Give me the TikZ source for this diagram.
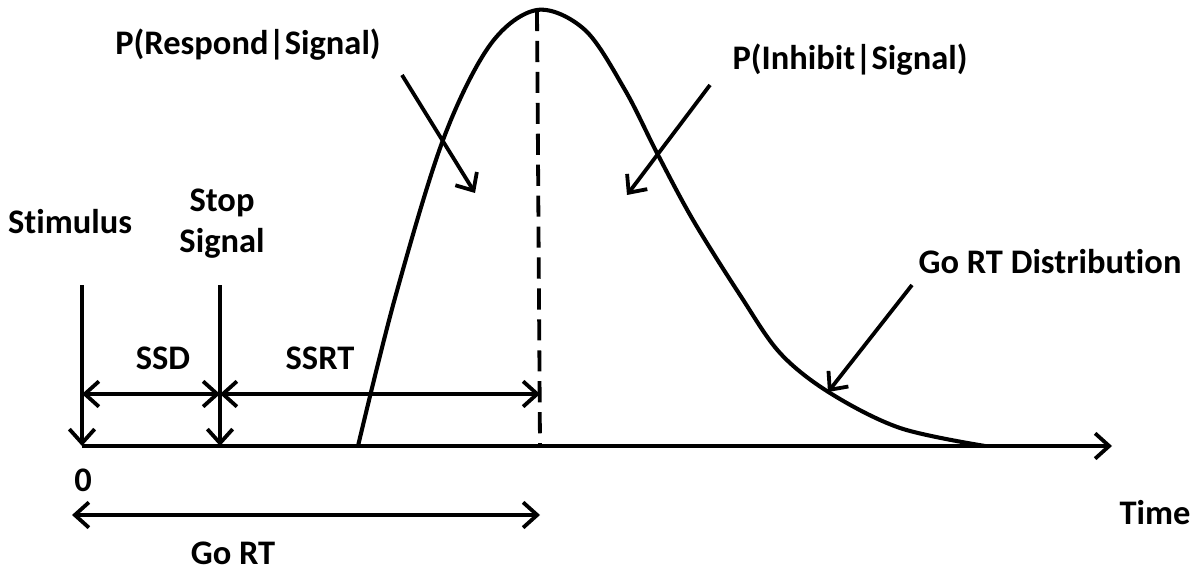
\documentclass[tikz,border=0pt]{standalone}
\usepackage{fontspec}
\setmainfont{Carlito}[Ligatures={NoCommon}]
\usetikzlibrary{arrows.meta}
\begin{document}
\begin{tikzpicture}[x=0.025cm,y=-0.025cm,
  lbl/.style={font=\bfseries\fontsize{24.5}{29}\selectfont, inner sep=0pt, align=center},
  ln/.style={line width=2.7pt},
  tip/.style={-{Straight Barb[length=10pt,width=18pt,line width=2.7pt]}},
  dtip/.style={{Straight Barb[length=10pt,width=18pt,line width=2.7pt]}-{Straight Barb[length=10pt,width=18pt,line width=2.7pt]}}]
\useasboundingbox (0,0) rectangle (1197,571);
% coordinates
\coordinate (o) at (82,446);
\coordinate (axend) at (1112,446);
\coordinate (stimtop) at (82,285);
\coordinate (stoptop) at (220,285);
\coordinate (stopbase) at (220,446);
\coordinate (ssdL) at (82,394);
\coordinate (ssdR) at (220,394);
\coordinate (ssrtR) at (540,394);
\coordinate (peak) at (537,10);
\coordinate (dashbase) at (540,446);
\coordinate (goL) at (72,515);
\coordinate (goR) at (540,515);
\coordinate (rs1) at (402,75);
\coordinate (rs2) at (475,193);
\coordinate (in1) at (710,85);
\coordinate (in2) at (627,195);
\coordinate (gd1) at (912,285);
\coordinate (gd2) at (828,392);
% labels
\node[lbl] (stim) at (70,222) {Stimulus};
\node[lbl] (stop) at (222,224) {Stop\\Signal};
\node[lbl] (ssd) at (163,358) {SSD};
\node[lbl] (ssrt) at (320,358) {SSRT};
\node[lbl] (zero) at (83,480) {0};
\node[lbl] (time) at (1155,513) {Time};
\node[lbl] (gort) at (233,553) {Go RT};
\node[lbl] (resp) at (248,45) {P(Respond|Signal)};
\node[lbl] (inh) at (850,60) {P(Inhibit|Signal)};
\node[lbl] (dist) at (1050,262) {Go RT Distribution};
% axis
\draw[ln,tip] (o) -- (axend);
\draw[ln,tip] (stimtop) -- (o);
\draw[ln,tip] (stoptop) -- (stopbase);
\draw[ln,dtip] (ssdL) -- (ssdR);
\draw[ln,dtip] (ssdR) -- (ssrtR);
\draw[ln,dtip] (goL) -- (goR);
\draw[line width=2.7pt,dash pattern=on 15pt off 7pt] (peak) -- (dashbase);
% curve
\draw[line width=2.9pt,line join=round] plot[smooth,tension=0.55] coordinates {
 (358,446) (395,298) (443,140) (490,45) (537,10) (585,30) (625,90) (657,153) (693,220) (740,295) (780,353) (830,393) (900,428) (985,446)};
% pointer arrows
\draw[ln,tip] (rs1) -- (rs2);
\draw[ln,tip] (in1) -- (in2);
\draw[ln,tip] (gd1) -- (gd2);
\end{tikzpicture}
\end{document}
